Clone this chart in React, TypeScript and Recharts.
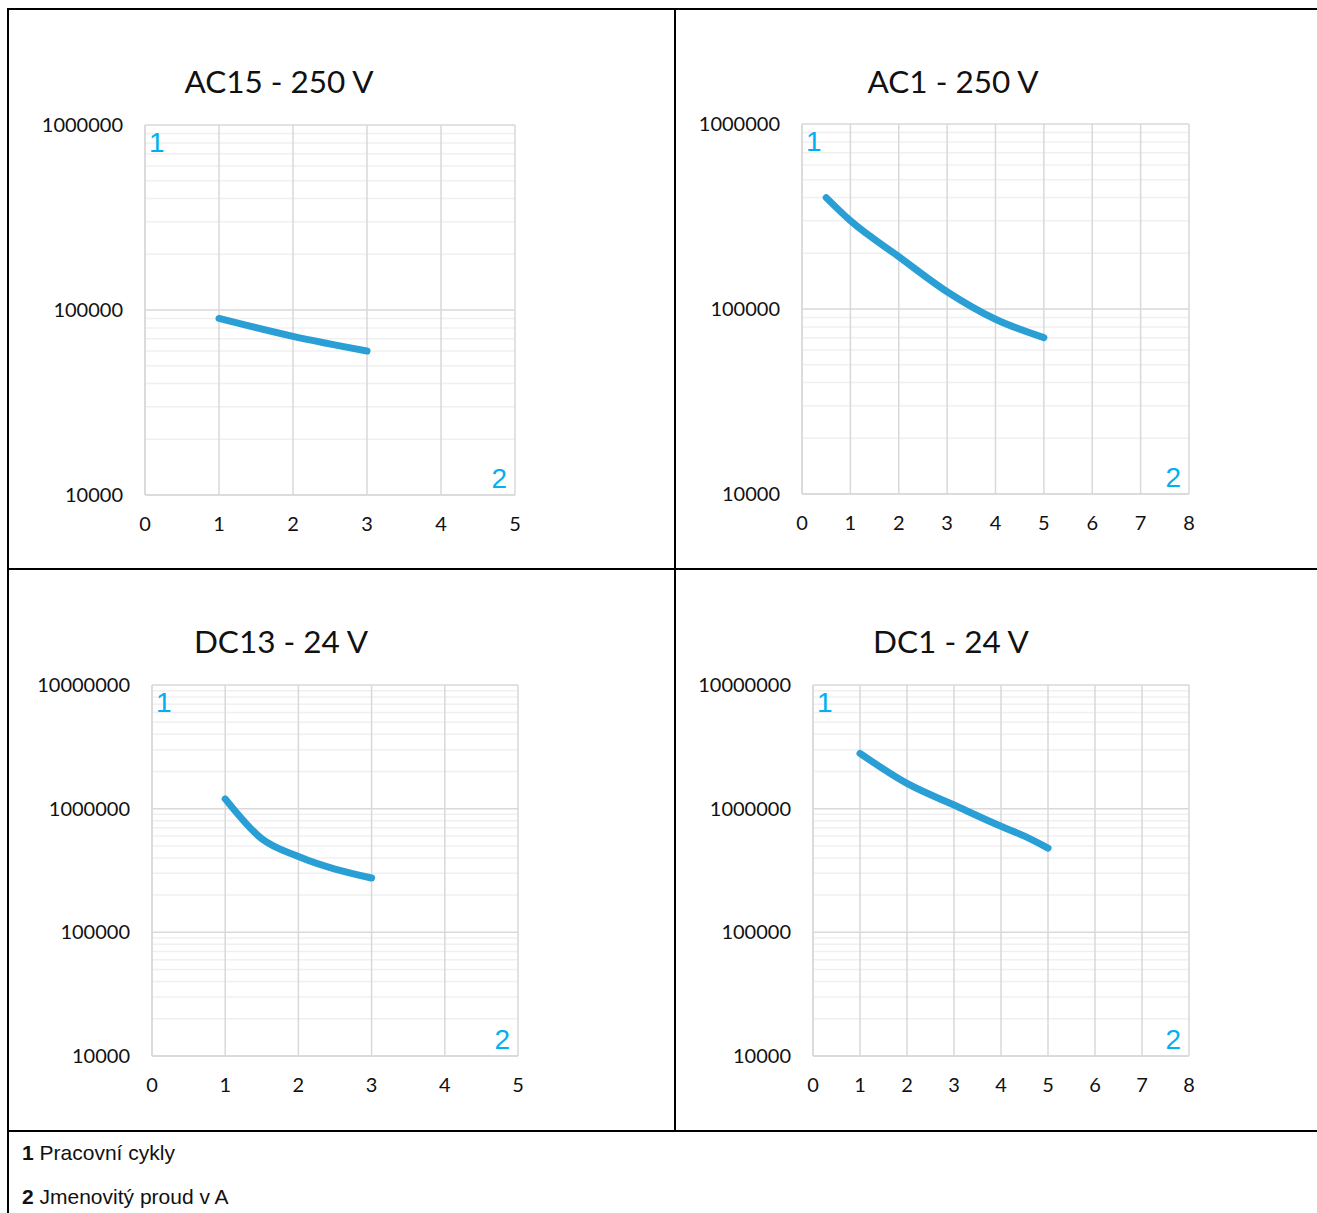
import React from 'react';
import { LineChart, Line, XAxis, YAxis, CartesianGrid } from 'recharts';

// rated current (A) vs. operating cycles
const ac15Current = [1, 2, 3];
const ac15Cycles = [90000, 72000, 60000];

const ac1Current = [0.5, 1, 2, 3, 4, 5];
const ac1Cycles = [400000, 300000, 192000, 124000, 88000, 70000];

const dc13Current = [1, 1.5, 2, 3];
const dc13Cycles = [1200000, 570000, 410000, 275000];

const dc1Current = [1, 2, 3, 4, 4.5, 5];
const dc1Cycles = [2800000, 1600000, 1070000, 720000, 600000, 480000];

const xTicks5 = [0, 1, 2, 3, 4, 5];
const xTicks8 = [0, 1, 2, 3, 4, 5, 6, 7, 8];
const yTicksAC = [10000, 100000, 1000000];
const yTicksDC = [10000, 100000, 1000000, 10000000];

const LINE_COLOR = '#2a9fd6';
const MARK_COLOR = '#00b0f0';

const toRows = (xs: number[], ys: number[]) => xs.map((x, i) => ({ current: x, cycles: ys[i] }));

// minor log gridlines 2..9 inside each decade
const minorLines = (ticks: number[]) =>
  ticks.slice(0, -1).flatMap((d) => [2, 3, 4, 5, 6, 7, 8, 9].map((k) => k * d));

interface PanelProps {
  title: string;
  titleX: number;
  titleTop: number;
  left: number;
  top: number;
  width: number;
  height: number;
  xTicks: number[];
  yTicks: number[];
  rows: { current: number; cycles: number }[];
}

const PAD_L = 140;
const PAD_T = 20;
const PAD_R = 20;
const PAD_B = 60;

const Panel = ({ title, titleX, titleTop, left, top, width, height, xTicks, yTicks, rows }: PanelProps) => {
  const tickStyle = { fill: '#111', fontSize: 20, fontFamily: 'Lato' };
  return (
    <>
      <div
        style={{
          position: 'absolute',
          left: titleX,
          top: titleTop,
          transform: 'translateX(-50%)',
          fontFamily: 'Lato',
          fontSize: 31.5,
          lineHeight: 1,
          whiteSpace: 'nowrap',
          color: '#111',
        }}
      >
        {title}
      </div>
      <div style={{ position: 'absolute', left: left - PAD_L, top: top - PAD_T }}>
        <LineChart
          width={width + PAD_L + PAD_R}
          height={height + PAD_T + PAD_B}
          data={rows}
          margin={{ top: PAD_T, right: PAD_R, left: 0, bottom: 0 }}
        >
          <CartesianGrid
            horizontalValues={minorLines(yTicks)}
            vertical={false}
            stroke="#f0f0f0"
            strokeWidth={1.5}
          />
          <CartesianGrid stroke="#d9d9d9" strokeWidth={1.5} />
          <XAxis
            dataKey="current"
            type="number"
            domain={[0, xTicks[xTicks.length - 1]]}
            ticks={xTicks}
            interval={0}
            height={PAD_B}
            tickLine={false}
            tickSize={0}
            tickMargin={22}
            axisLine={{ stroke: '#d9d9d9', strokeWidth: 1.5 }}
            tick={tickStyle}
          />
          <YAxis
            type="number"
            scale="log"
            domain={[yTicks[0], yTicks[yTicks.length - 1]]}
            allowDataOverflow
            ticks={yTicks}
            interval={0}
            width={PAD_L}
            tickLine={false}
            tickSize={0}
            tickMargin={22}
            axisLine={{ stroke: '#d9d9d9', strokeWidth: 1.5 }}
            tick={tickStyle}
          />
          <Line
            dataKey="cycles"
            type="monotone"
            stroke={LINE_COLOR}
            strokeWidth={7}
            strokeLinecap="round"
            dot={false}
            activeDot={false}
            isAnimationActive={false}
          />
        </LineChart>
      </div>
      <div
        style={{
          position: 'absolute',
          left: left + 4,
          top: top + 4,
          fontFamily: '"Liberation Sans", Arial, sans-serif',
          fontSize: 28,
          lineHeight: 1,
          color: MARK_COLOR,
        }}
      >
        1
      </div>
      <div
        style={{
          position: 'absolute',
          left: left + width - 8,
          top: top + height - 30,
          transform: 'translateX(-100%)',
          fontFamily: '"Liberation Sans", Arial, sans-serif',
          fontSize: 28,
          lineHeight: 1,
          color: MARK_COLOR,
        }}
      >
        2
      </div>
    </>
  );
};

const rule = (left: number, top: number, width: number, height: number) => (
  <div style={{ position: 'absolute', left, top, width, height, background: '#000' }} />
);

const footStyle: React.CSSProperties = {
  position: 'absolute',
  left: 22,
  fontFamily: '"Liberation Sans", Arial, sans-serif',
  fontSize: 21,
  lineHeight: '24px',
  color: '#111',
  whiteSpace: 'nowrap',
};

export default function App() {
  return (
    <div
      style={{
        position: 'absolute',
        left: 0,
        top: 0,
        width: 1317,
        height: 1213,
        background: '#fff',
        overflow: 'hidden',
      }}
    >
      {rule(7, 8, 1310, 2)}
      {rule(7, 8, 2, 1205)}
      {rule(674, 8, 2, 1124)}
      {rule(7, 568, 1310, 2)}
      {rule(7, 1130, 1310, 2)}

      <Panel
        title="AC15 - 250 V"
        titleX={279}
        titleTop={66}
        left={145}
        top={125}
        width={370}
        height={370}
        xTicks={xTicks5}
        yTicks={yTicksAC}
        rows={toRows(ac15Current, ac15Cycles)}
      />
      <Panel
        title="AC1 - 250 V"
        titleX={953}
        titleTop={66}
        left={802}
        top={124}
        width={387}
        height={370}
        xTicks={xTicks8}
        yTicks={yTicksAC}
        rows={toRows(ac1Current, ac1Cycles)}
      />
      <Panel
        title="DC13 - 24 V"
        titleX={281}
        titleTop={626}
        left={152}
        top={685}
        width={366}
        height={371}
        xTicks={xTicks5}
        yTicks={yTicksDC}
        rows={toRows(dc13Current, dc13Cycles)}
      />
      <Panel
        title="DC1 - 24 V"
        titleX={951}
        titleTop={626}
        left={813}
        top={685}
        width={376}
        height={371}
        xTicks={xTicks8}
        yTicks={yTicksDC}
        rows={toRows(dc1Current, dc1Cycles)}
      />

      <div style={{ ...footStyle, top: 1141 }}>
        <b>1</b> Pracovní cykly
      </div>
      <div style={{ ...footStyle, top: 1185 }}>
        <b>2</b> Jmenovitý proud v A
      </div>
    </div>
  );
}
